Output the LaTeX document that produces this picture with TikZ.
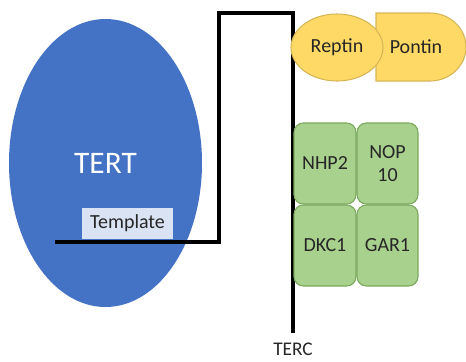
\documentclass[tikz,border=0pt]{standalone}
\usepackage{fontspec}
\setmainfont{Carlito}
\definecolor{tertblue}{RGB}{68,114,196}
\definecolor{tmplfill}{RGB}{218,227,243}
\definecolor{goldfill}{RGB}{255,217,102}
\definecolor{goldline}{RGB}{214,182,86}
\definecolor{greenfill}{RGB}{169,209,142}
\definecolor{greenline}{RGB}{122,168,92}
\definecolor{ink}{RGB}{38,38,38}
\begin{document}
\begin{tikzpicture}[x=0.75pt,y=-0.75pt,
  lbl/.style={font=\fontsize{15pt}{17pt}\selectfont, text=ink, align=center},
  gold/.style={fill=goldfill, draw=goldline, line width=0.8pt},
  subunit/.style={draw=greenline, fill=greenfill, line width=0.8pt, rounded corners=7pt}]
\useasboundingbox (0,0) rectangle (466,361);
% telomerase reverse transcriptase
\fill[tertblue] (105.5,163) ellipse [x radius=96.5, y radius=144];
\node[text=white, font=\fontsize{23.5pt}{26pt}\selectfont] (tert) at (105.5,163) {TERT};
\node[fill=tmplfill, minimum width=91*0.75pt, minimum height=31*0.75pt, inner sep=0pt,
  font=\fontsize{15pt}{17pt}\selectfont, text=ink] (tmpl) at (127.5,223.5) {Template};
% RNA component
\coordinate (rnaA) at (55,242);
\coordinate (rnaB) at (219,242);
\coordinate (rnaC) at (219,13);
\coordinate (rnaD) at (293,13);
\coordinate (rnaE) at (293,333);
\draw[line width=3pt, line join=miter] (rnaA) -- (rnaB) -- (rnaC) -- (rnaD) -- (rnaE);
\node[font=\fontsize{14.5pt}{16pt}\selectfont, text=ink] (terc) at (293,349) {TERC};
% Pontin (delay shape) under Reptin
\path[gold] (376,13) -- (430,13) arc[start angle=-90, end angle=90, x radius=36, y radius=34] -- (376,81) -- cycle;
\node[lbl] (pontin) at (416,47) {Pontin};
\path[gold] (337,47.5) ellipse [x radius=46, y radius=33.5];
\node[lbl] (reptin) at (337,47.5) {Reptin};
% H/ACA proteins
\path[subunit] (294,123) rectangle (356,204);
\node[lbl] (nhp) at (325,163.5) {NHP2};
\path[subunit] (357,123) rectangle (418,204);
\node[lbl] (nop) at (387.5,163.5) {NOP\\10};
\path[subunit] (294,205) rectangle (356,286);
\node[lbl] (dkc) at (325,245.5) {DKC1};
\path[subunit] (357,205) rectangle (418,286);
\node[lbl] (gar) at (387.5,245.5) {GAR1};
\end{tikzpicture}
\end{document}
